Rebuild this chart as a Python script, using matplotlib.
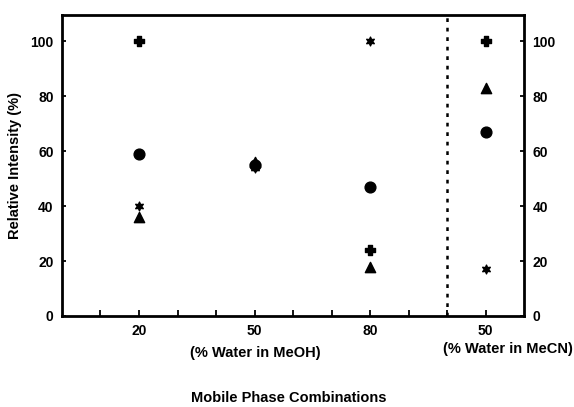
import matplotlib
matplotlib.use("Agg")
import matplotlib.pyplot as plt

plt.rcParams['font.family'] = ['Liberation Sans', 'DejaVu Sans']
plt.rcParams['font.weight'] = 'bold'

categories = ["20", "50", "80", "50"]
plus_vals = [100, 55, 24, 100]
circle_vals = [59, 55, 47, 67]
star_vals = [40, 54, 100, 17]
triangle_vals = [36, 56, 18, 83]

x = list(range(len(categories)))

fig = plt.figure(figsize=(5.74, 4.07), dpi=100)
ax = fig.add_axes([0.108, 0.2236, 0.805, 0.7394])

ax.scatter(x, circle_vals, marker='o', s=60, color='black', zorder=3)
ax.scatter(x, triangle_vals, marker='^', s=55, color='black', zorder=3)
ax.scatter(x, plus_vals, marker='P', s=50, color='black', zorder=3)
ax.scatter(x, star_vals, marker=(6, 1, 0), s=40, color='black', zorder=3)

ax.axvline(2 + 2/3, color='black', lw=1.8, ls=(0, (1.5, 2.3)))

ax.set_xlim(-2/3, 3 + 1/3)
ax.set_ylim(0, 109.5)

major = x
minor = [v / 3 for v in range(-1, 10) if v % 3 != 0]
ax.set_xticks(major)
ax.set_xticklabels(categories, fontsize=10, fontweight='bold')
ax.set_xticks(minor, minor=True)
ax.tick_params(axis='x', which='both', direction='in', length=4, width=1.3, pad=6)

yt = [0, 20, 40, 60, 80, 100]
ax.set_yticks(yt)
ax.set_yticklabels([str(v) for v in yt], fontsize=10, fontweight='bold')
ax.tick_params(axis='y', which='both', direction='in', length=3, width=1.3,
               right=True, labelright=True, pad=6)

for s in ax.spines.values():
    s.set_linewidth(2.0)

ax.set_ylabel("Relative Intensity (%)", fontsize=10.5, fontweight='bold', labelpad=6)

fig.text(255 / 574, 1 - 353 / 407, "(% Water in MeOH)", ha='center', va='center',
         fontsize=10.5, fontweight='bold')
fig.text(508 / 574, 1 - 349 / 407, "(% Water in MeCN)", ha='center', va='center',
         fontsize=10.5, fontweight='bold')
fig.text(289 / 574, 1 - 398 / 407, "Mobile Phase Combinations", ha='center', va='center',
         fontsize=10.5, fontweight='bold')

fig.savefig("out.png", dpi=100)
